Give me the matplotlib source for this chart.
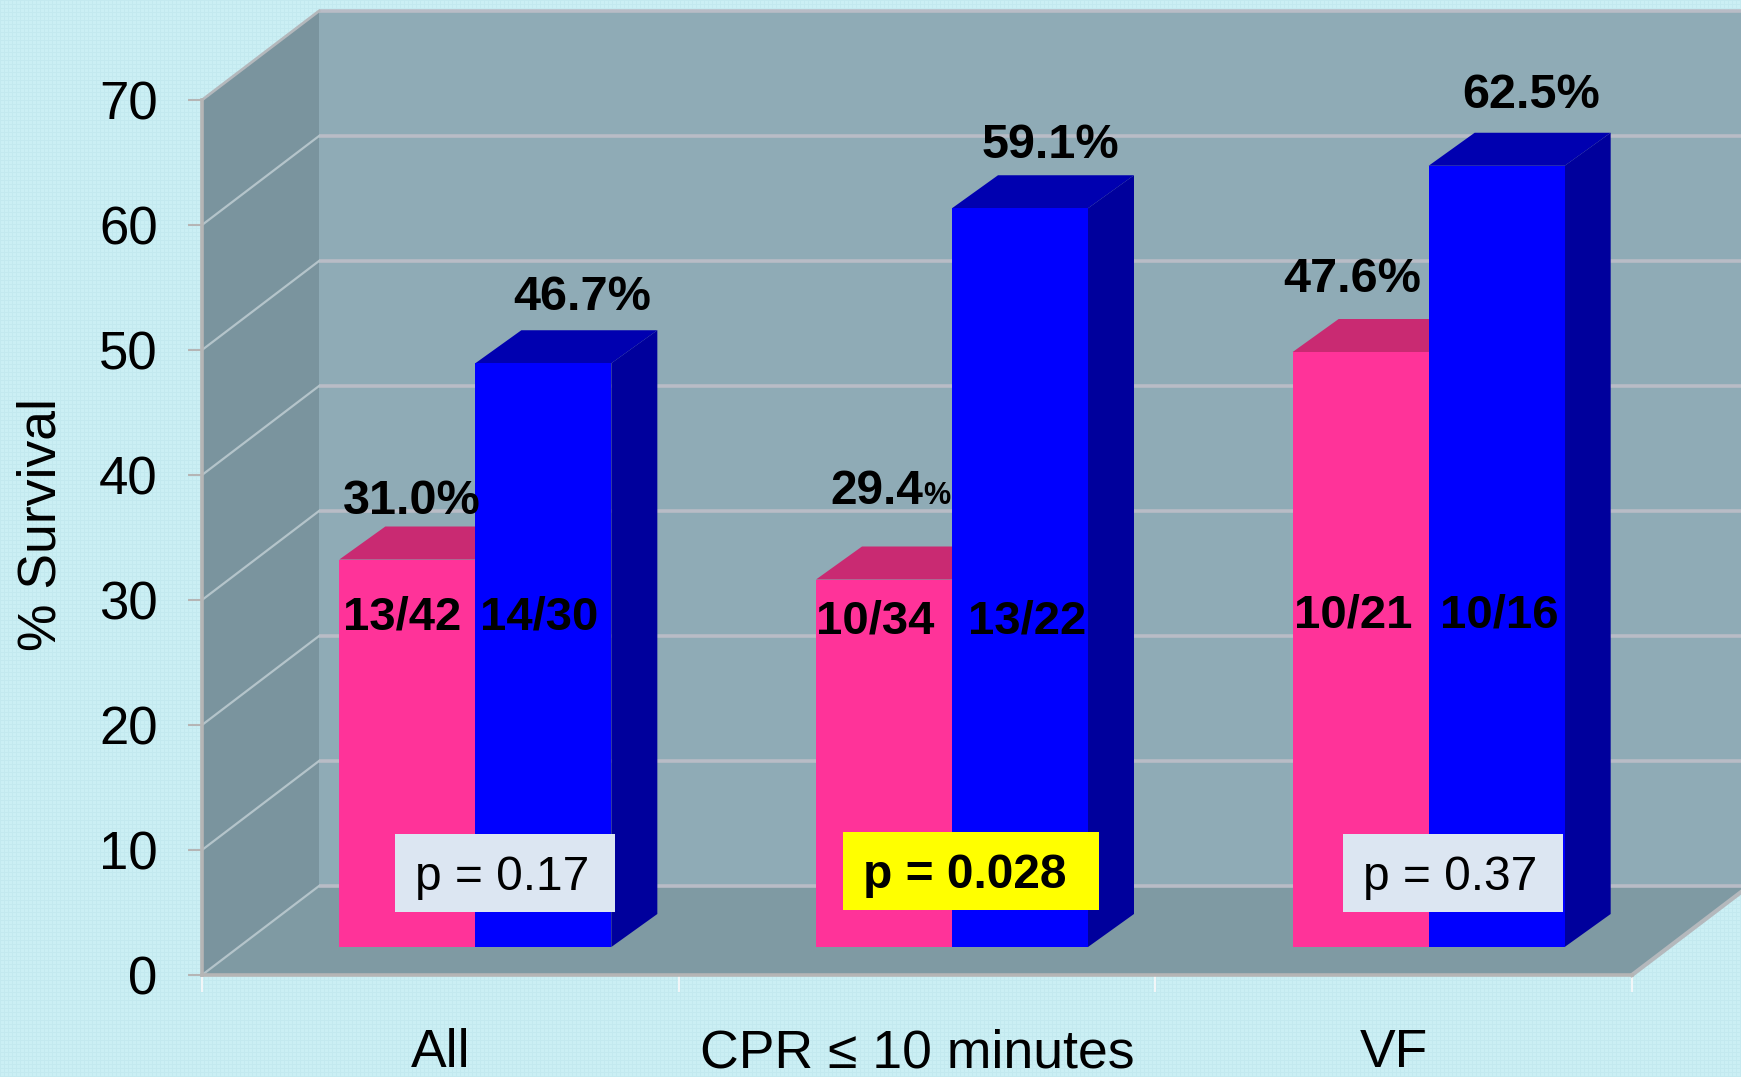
import numpy as np
import matplotlib
matplotlib.use('Agg')
import matplotlib.pyplot as plt
from matplotlib.patches import Polygon, Rectangle

plt.rcParams['font.family'] = ['Liberation Sans', 'DejaVu Sans']

categories = ['All', 'CPR ≤ 10 minutes', 'VF']
pink_vals = [31.0, 29.4, 47.6]
blue_vals = [46.7, 59.1, 62.5]
pink_counts = ['13/42', '10/34', '10/21']
blue_counts = ['14/30', '13/22', '10/16']
p_labels = ['p = 0.17', 'p = 0.028', 'p = 0.37']
y_ticks = [0, 10, 20, 30, 40, 50, 60, 70]

W, H = 1741, 1077
X0, X3, Y0, Y70 = 202, 1632, 975, 100
sx = (X3 - X0) / 3
sy = (Y0 - Y70) / 70

fig = plt.figure(figsize=(W / 100, H / 100), dpi=100, facecolor='#C9EEF3')

# fine woven texture of the slide background
weave = np.zeros((H, W, 3)) + np.array([0xCB, 0xEF, 0xF4]) / 255
weave[::4, :] = np.array([0xC3, 0xE9, 0xEF]) / 255
weave[:, ::4] = np.array([0xC3, 0xE9, 0xEF]) / 255
fig.figimage(weave, 0, 0, zorder=-5)

ax = fig.add_axes([X0 / W, 1 - Y0 / H, (X3 - X0) / W, (Y0 - Y70) / H])
ax.set_xlim(0, 3)
ax.set_ylim(0, 70)
ax.patch.set_alpha(0)

# depth of the box, the bar offset and the bar depth, in data units
box_dx, box_dy = 117 / sx, 89 / sy
off_dx, off_dy = 35 / sx, 28 / sy
bar_dx, bar_dy = 46 / sx, 33 / sy
bar_w = 136 / sx

far = 3 + 120 / sx
ax.add_patch(Polygon([(box_dx, box_dy), (far, box_dy), (far, 70 + box_dy), (box_dx, 70 + box_dy)],
                     fc='#8FABB6', ec='none', zorder=1, clip_on=False))
ax.add_patch(Polygon([(0, 0), (box_dx, box_dy), (box_dx, 70 + box_dy), (0, 70)],
                     fc='#7A949E', ec='none', zorder=1, clip_on=False))
ax.add_patch(Polygon([(0, 0), (3, 0), (3 + box_dx, box_dy), (box_dx, box_dy)],
                     fc='#7F9AA3', ec='none', zorder=1, clip_on=False))

# gridlines on back and left wall
for v in y_ticks:
    ax.plot([box_dx, far], [v + box_dy, v + box_dy], c='#B9BCC6', lw=2.6, zorder=2, clip_on=False,
            solid_capstyle='butt')
    if v < 70:
        ax.plot([0, box_dx], [v, v + box_dy], c='#B4C4CA', lw=1.6, zorder=2, clip_on=False)
ax.plot([0, box_dx], [70, 70 + box_dy], c='#B4B8BC', lw=2, zorder=2, clip_on=False)
ax.plot([3, 3 + box_dx], [0, box_dy], c='#B4B8BC', lw=3, zorder=2, clip_on=False)

for i in range(3):
    left = i + 0.5 + off_dx - bar_w
    # pink bar, blue one sits in front of its side
    top = pink_vals[i] + off_dy
    ax.add_patch(Polygon([(left, top), (left + bar_w, top),
                          (left + bar_w + bar_dx, top + bar_dy), (left + bar_dx, top + bar_dy)],
                         fc='#C92A72', ec='none', zorder=3, clip_on=False))
    ax.bar(left, pink_vals[i], bar_w, bottom=off_dy, align='edge', color='#FF3399', zorder=4, clip_on=False)

    mid = left + bar_w
    top = blue_vals[i] + off_dy
    ax.add_patch(Polygon([(mid, top), (mid + bar_w, top),
                          (mid + bar_w + bar_dx, top + bar_dy), (mid + bar_dx, top + bar_dy)],
                         fc='#0000B0', ec='none', zorder=5, clip_on=False))
    ax.add_patch(Polygon([(mid + bar_w, off_dy), (mid + bar_w + bar_dx, off_dy + bar_dy),
                          (mid + bar_w + bar_dx, top + bar_dy), (mid + bar_w, top)],
                         fc='#00009C', ec='none', zorder=5, clip_on=False))
    ax.bar(mid, blue_vals[i], bar_w, bottom=off_dy, align='edge', color='#0000FF', zorder=6, clip_on=False)

for s in ['top', 'right']:
    ax.spines[s].set_visible(False)
for s in ['left', 'bottom']:
    ax.spines[s].set_color('#B5B5B5')
    ax.spines[s].set_linewidth(2.6)
    ax.spines[s].set_zorder(7)

ax.set_yticks(y_ticks)
ax.tick_params(axis='y', length=10, width=1.5, color='#B5B5B5', labelsize=38, pad=22)
ax.set_xticks([0, 1, 2, 3])
ax.set_xticklabels([])
ax.tick_params(axis='x', which='major', length=12, width=1.5, color='#F2F6F8')
ax.set_xticks([0.5, 1.5, 2.5], minor=True)
ax.set_xticklabels(categories, minor=True)
ax.tick_params(axis='x', which='minor', length=0, labelsize=38.5, pad=38.5)


def put(x, y, s, size=35, weight='bold', ha='center', zorder=10):
    # x, y are reference pixels
    return fig.text(x / W, 1 - y / H, s, fontsize=size, fontweight=weight, ha=ha, va='center', zorder=zorder)


put(42, 524, '% Survival', size=38.5, weight='normal').set_rotation(90)

# bar value labels
put(412, 501, '31.0%')
put(582, 297, '46.7%')
put(877, 492, '29.4', size=34.5)
put(937, 496, '%', size=22)
put(1050, 145, '59.1%')
put(1352, 279, '47.6%')
put(1531, 95, '62.5%')

count_x = [(402, 539), (875, 1027), (1353, 1499)]
count_y = [617, 621, 616]
for i in range(3):
    put(count_x[i][0], count_y[i], pink_counts[i], size=34)
    put(count_x[i][1], count_y[i], blue_counts[i], size=34)

# p value boxes
boxes = [(395, 834, 220, 78, '#DCE6F2'), (843, 832, 256, 78, '#FFFF00'), (1343, 834, 220, 78, '#DCE6F2')]
for i, (bx, by, bw, bh, col) in enumerate(boxes):
    fig.add_artist(Rectangle((bx / W, 1 - (by + bh) / H), bw / W, bh / H, fc=col, ec='none',
                             transform=fig.transFigure, zorder=9))
    put(bx + bw / 2 - (3 if i != 1 else 6), by + 44, p_labels[i], size=34.5, weight='bold' if i == 1 else 'normal')

fig.savefig('out.png', dpi=100, facecolor=fig.get_facecolor())
